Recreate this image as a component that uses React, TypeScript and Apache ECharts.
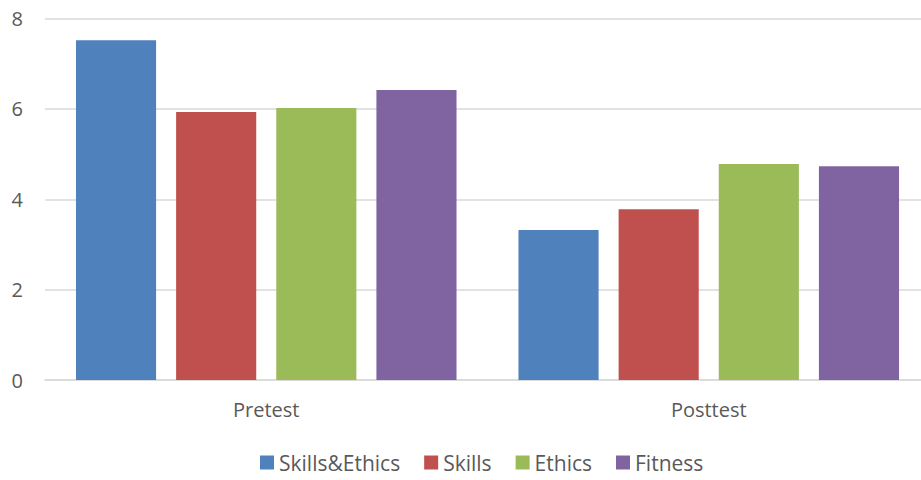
import React, { useEffect, useRef } from "react";
import * as echarts from "echarts";

const categories = ["Pretest", "Posttest"];
const seriesNames = ["Skills&Ethics", "Skills", "Ethics", "Fitness"];
const skillsEthics = [7.52, 3.32];
const skills = [5.93, 3.78];
const ethics = [6.02, 4.78];
const fitness = [6.42, 4.73];
const colors = ["#4f81bd", "#c0504d", "#9bbb59", "#8064a2"];

export default function App() {
  const ref = useRef<HTMLDivElement>(null);
  useEffect(() => {
    if (!ref.current) return;
    const chart = echarts.init(ref.current, undefined, { renderer: "svg" });
    const font = "'Open Sans', 'Noto Sans', sans-serif";
    const values = [skillsEthics, skills, ethics, fitness];
    chart.setOption({
      animation: false,
      color: colors,
      textStyle: { fontFamily: font },
      grid: { left: 45, right: 0, top: 18.5, bottom: 100, containLabel: false },
      legend: {
        top: 452,
        left: 260,
        padding: 0,
        itemWidth: 14,
        itemHeight: 14,
        itemGap: 24,
        icon: "rect",
        textStyle: { fontSize: 21, color: "#595959", fontFamily: font },
        data: seriesNames,
      },
      xAxis: {
        type: "category",
        data: categories,
        axisLine: { lineStyle: { color: "#d9d9d9", width: 1.5 } },
        axisTick: { show: false },
        axisLabel: { fontSize: 20, color: "#595959", margin: 19, fontFamily: font },
      },
      yAxis: {
        type: "value",
        min: 0,
        max: 8,
        interval: 2,
        axisLine: { show: false },
        axisTick: { show: false },
        splitLine: { lineStyle: { color: "#d9d9d9", width: 1.5 } },
        axisLabel: { fontSize: 20, color: "#595959", margin: 22, fontFamily: font },
      },
      series: seriesNames.map((name, i) => ({
        name,
        type: "bar",
        data: values[i],
        barGap: "25%",
        barCategoryGap: "14%",
        itemStyle: { color: colors[i] },
      })),
    });
    return () => chart.dispose();
  }, []);
  return (
    <div
      style={{ position: "absolute", left: 0, top: 0, width: 921, height: 480, overflow: "hidden", background: "#fff" }}
    >
      <div ref={ref} style={{ width: 930, height: 480 }} />
    </div>
  );
}
